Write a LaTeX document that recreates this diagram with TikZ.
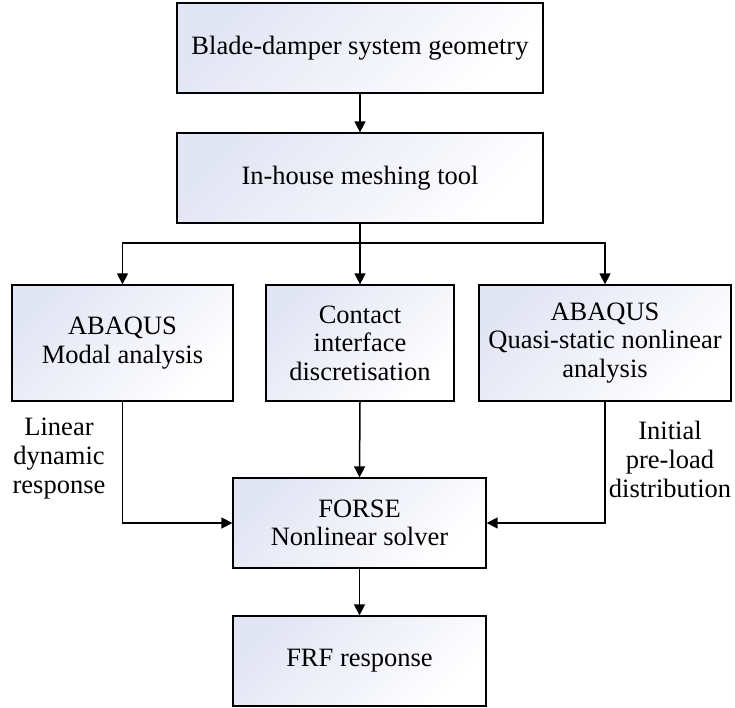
\documentclass[tikz,border=0pt]{standalone}
\usepackage{fontspec}
\setmainfont{Liberation Serif}
\usetikzlibrary{arrows.meta,calc}
\definecolor{boxc}{RGB}{226,229,244}
\tikzset{
  flowbox/.style={draw=black, line width=1.3pt, top color=boxc, bottom color=white, shading angle=45,
    align=center, inner sep=2pt, font=\fontsize{26.5}{28.5}\selectfont},
  conn/.style={line width=1.5pt, -{Triangle[length=11pt,width=11pt]}},
  lbl/.style={align=center, font=\fontsize{26.5}{29}\selectfont}
}
\begin{document}
\begin{tikzpicture}[x=1pt,y=-1pt]
\useasboundingbox (0,0) rectangle (735,708);
\node[flowbox, minimum width=366pt, minimum height=90pt] (geo) at (360,48) {Blade-damper system geometry};
\node[flowbox, minimum width=366pt, minimum height=90pt] (mesh) at (360,178) {In-house meshing tool};
\node[flowbox, minimum width=221pt, minimum height=116pt] (modal) at (122.5,343) {ABAQUS\\Modal analysis};
\node[flowbox, minimum width=188pt, minimum height=116pt] (contact) at (360,343) {Contact\\interface\\discretisation};
\node[flowbox, minimum width=252pt, minimum height=116pt] (quasi) at (605,343) {ABAQUS\\Quasi-static nonlinear\\analysis};
\node[flowbox, minimum width=253pt, minimum height=90pt] (forse) at (359.5,523) {FORSE\\Nonlinear solver};
\node[flowbox, minimum width=253pt, minimum height=90pt] (frf) at (359.5,661) {FRF response};
\coordinate (br) at (360,243);
\draw[conn] (geo) -- (mesh);
\draw[line width=1.5pt] (mesh.south) -- (br);
\draw[conn] (br) -| (modal.north);
\draw[conn] (br) -- (contact.north);
\draw[conn] (br) -| (quasi.north);
\draw[conn] (contact.south) -- (forse.north);
\draw[conn] (modal.south) |- (forse.west);
\draw[conn] (quasi.south) |- (forse.east);
\draw[conn] (forse) -- (frf);
\node[lbl] (l1) at (59,459) {Linear\\dynamic\\response};
\node[lbl] (l2) at (670,459) {Initial\\pre-load\\distribution};
\end{tikzpicture}
\end{document}
